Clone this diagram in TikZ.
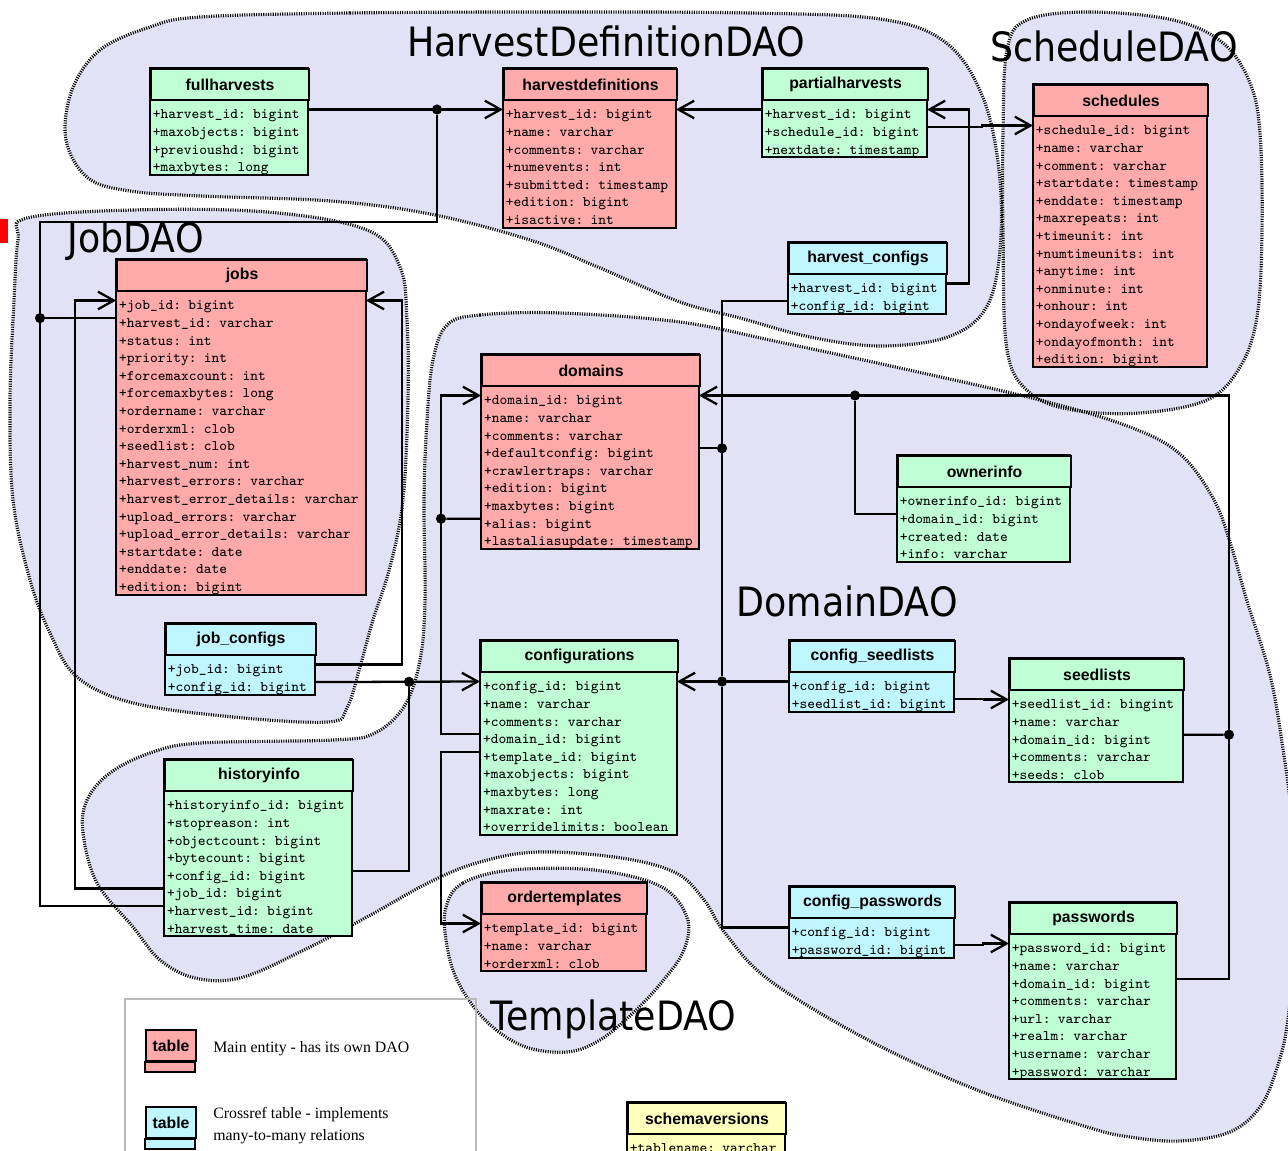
\documentclass[tikz,border=0pt]{standalone}
\usepackage{fontspec}
\usepackage{graphicx}
\usetikzlibrary{arrows.meta}
\newfontfamily\tblfont{Liberation Sans}
\newfontfamily\daofont{DejaVu Sans}
\newfontfamily\legfont{Liberation Serif}
\definecolor{entpink}{RGB}{255,170,170}
\definecolor{relgreen}{RGB}{192,255,214}
\definecolor{xrefcyan}{RGB}{192,246,255}
\definecolor{metayellow}{RGB}{255,255,190}
\definecolor{daofill}{RGB}{226,226,246}

\newcommand{\daoname}[1]{\scalebox{0.9}[1]{#1}}

% table: name, x, y, width, colour, title, rows
\newcommand{\dbtable}[7]{%
  \foreach \r [count=\i] in {#7} {\xdef\nrows{\i}}%
  \pgfmathsetmacro{\tblbot}{#3+54+(\nrows-1)*17.6}%
  \pgfmathsetmacro{\tblw}{#4*0.5669-3}%
  \draw[tblframe, fill=#5] (#2,#3) rectangle ({#2+#4},\tblbot);
  \node[tblhead, fill=#5, minimum width=#4*0.02cm, anchor=north west] (#1) at (#2,#3) {#6};
  \foreach \r [count=\i] in {#7}
    \node[tblrow, text width=\tblw pt] (#1-\i) at ({#2+#4/2},{#3+41.5+(\i-1)*17.6}) {+\r};
}

% DAO areas
\newcommand{\hdzone}{plot[smooth cycle, tension=0.6] coordinates {(200,17) (350,13) (550,12) (750,13) (880,19) (945,42) (982,95) (999,170) (1000,250) (986,308) (948,337) (880,346) (810,337) (740,318) (680,302) (600,268) (530,240) (430,214) (330,201) (200,196) (130,191) (88,178) (66,140) (72,90) (100,50) (150,27)}}
\newcommand{\schedzone}{plot[smooth cycle, tension=0.6] coordinates {(1027,20) (1090,12) (1173,20) (1223,43) (1250,83) (1260,133) (1262,233) (1257,317) (1240,367) (1207,400) (1140,413) (1073,410) (1030,393) (1007,350) (1003,233) (1003,133) (1007,50)}}
\newcommand{\jobzone}{plot[smooth cycle, tension=0.6] coordinates {(27,218) (133,210) (267,212) (367,230) (400,267) (407,320) (408,400) (403,500) (390,567) (373,620) (360,667) (347,708) (328,722) (233,717) (133,703) (77,677) (50,633) (30,580) (13,500) (10,400) (14,300) (18,240)}}
\newcommand{\domzone}{plot[smooth cycle, tension=0.6] coordinates {(447,325) (480,315) (560,313) (680,322) (779,342) (900,368) (1040,400) (1130,427) (1180,454) (1213,498) (1230,542) (1247,601) (1270,675) (1283,749) (1292,822) (1296,920) (1288,1019) (1277,1068) (1260,1107) (1230,1132) (1180,1141) (1130,1137) (1087,1127) (977,1090) (868,1040) (769,980) (725,933) (704,900) (676,873) (621,858) (539,852) (480,862) (430,882) (367,917) (300,952) (240,978) (195,978) (160,960) (133,927) (97,883) (83,833) (87,800) (110,773) (150,753) (200,743) (333,740) (375,733) (405,705) (420,660) (425,600) (424,500) (427,420) (433,360)}}
\newcommand{\tmplzone}{plot[smooth cycle, tension=0.6] coordinates {(446,907) (463,883) (512,870) (594,870) (660,886) (687,917) (684,950) (662,982) (633,1013) (600,1040) (567,1052) (523,1046) (485,1020) (457,980) (446,940)}}

\begin{document}
\begin{tikzpicture}[x=0.02cm, y=-0.02cm, >={Straight Barb[length=9pt,width=10pt]},
  tblframe/.style={line width=1.2pt},
  tblhead/.style={draw, line width=1.2pt, inner sep=0pt, minimum height=0.62cm, font=\tblfont\bfseries\fontsize{9}{10}\selectfont},
  tblrow/.style={inner xsep=1.5pt, inner ysep=0pt, text height=10.8pt, text depth=0pt, align=left, font=\ttfamily\fontsize{8.3}{10}\selectfont},
  link/.style={line width=1.3pt},
  dot/.style={circle, fill, inner sep=0pt, minimum size=5.8pt},
  daozone/.style={fill=daofill},
  daoedge/.style={line width=1.8pt, dash pattern=on 0.6pt off 0.75pt},
  daotext/.style={anchor=base west, inner sep=0pt, font=\daofont\fontsize{23}{23}\selectfont},
  legtext/.style={anchor=base west, inner sep=0pt, font=\legfont\fontsize{9}{12}\selectfont}]
  \useasboundingbox (0,0) rectangle (1288,1151);
  \clip (0,0) rectangle (1288,1151);
  \fill[white] (0,0) rectangle (1288,1151);

  \fill[daozone] \hdzone;
  \fill[daozone] \schedzone;
  \fill[daozone] \jobzone;
  \fill[daozone] \domzone;
  \fill[daozone] \tmplzone;

  \node[daotext] (hdname) at (407,57) {\daoname{HarvestDefinitionDAO}};
  \node[daotext] (schedname) at (990,62) {\daoname{ScheduleDAO}};
  \node[daotext] (jobname) at (67,253) {\daoname{JobDAO}};
  \node[daotext] (domname) at (736,617) {\daoname{DomainDAO}};
  \node[daotext] (tmplname) at (490,1030) {\daoname{TemplateDAO}};

  \draw[daoedge] \hdzone;
  \draw[daoedge] \schedzone;
  \draw[daoedge] \jobzone;
  \draw[daoedge] \domzone;
  \draw[daoedge] \tmplzone;

  \fill[red] (0,219) rectangle (8,243);

  \dbtable{fullharvests}{150}{68}{158}{relgreen}{fullharvests}{harvest\_id: bigint, maxobjects: bigint, previoushd: bigint, maxbytes: long}
  \dbtable{harvestdefinitions}{503}{68}{173}{entpink}{harvestdefinitions}{harvest\_id: bigint, name: varchar, comments: varchar, numevents: int, submitted: timestamp, edition: bigint, isactive: int}
  \dbtable{partialharvests}{762}{68}{165}{relgreen}{partialharvests}{harvest\_id: bigint, schedule\_id: bigint, nextdate: timestamp}
  \dbtable{schedules}{1033}{84}{174}{entpink}{schedules}{schedule\_id: bigint, name: varchar, comment: varchar, startdate: timestamp, enddate: timestamp, maxrepeats: int, timeunit: int, numtimeunits: int, anytime: int, onminute: int, onhour: int, ondayofweek: int, ondayofmonth: int, edition: bigint}
  \dbtable{harvestconfigs}{788}{242}{158}{xrefcyan}{harvest\_configs}{harvest\_id: bigint, config\_id: bigint}
  \dbtable{jobs}{116}{259}{250}{entpink}{jobs}{job\_id: bigint, harvest\_id: varchar, status: int, priority: int, forcemaxcount: int, forcemaxbytes: long, ordername: varchar, orderxml: clob, seedlist: clob, harvest\_num: int, harvest\_errors: varchar, harvest\_error\_details: varchar, upload\_errors: varchar, upload\_error\_details: varchar, startdate: date, enddate: date, edition: bigint}
  \dbtable{jobconfigs}{165}{623}{150}{xrefcyan}{job\_configs}{job\_id: bigint, config\_id: bigint}
  \dbtable{historyinfo}{164}{759}{188}{relgreen}{historyinfo}{historyinfo\_id: bigint, stopreason: int, objectcount: bigint, bytecount: bigint, config\_id: bigint, job\_id: bigint, harvest\_id: bigint, harvest\_time: date}
  \dbtable{domains}{481}{354}{218}{entpink}{domains}{domain\_id: bigint, name: varchar, comments: varchar, defaultconfig: bigint, crawlertraps: varchar, edition: bigint, maxbytes: bigint, alias: bigint, lastaliasupdate: timestamp}
  \dbtable{ownerinfo}{897}{455}{173}{relgreen}{ownerinfo}{ownerinfo\_id: bigint, domain\_id: bigint, created: date, info: varchar}
  \dbtable{configurations}{480}{640}{197}{relgreen}{configurations}{config\_id: bigint, name: varchar, comments: varchar, domain\_id: bigint, template\_id: bigint, maxobjects: bigint, maxbytes: long, maxrate: int, overridelimits: boolean}
  \dbtable{ordertemplates}{481}{882}{165}{entpink}{ordertemplates}{template\_id: bigint, name: varchar, orderxml: clob}
  \dbtable{configseedlists}{789}{640}{165}{xrefcyan}{config\_seedlists}{config\_id: bigint, seedlist\_id: bigint}
  \dbtable{seedlists}{1009}{658}{174}{relgreen}{seedlists}{seedlist\_id: bingint, name: varchar, domain\_id: bigint, comments: varchar, seeds: clob}
  \dbtable{configpasswords}{789}{886}{165}{xrefcyan}{config\_passwords}{config\_id: bigint, password\_id: bigint}
  \dbtable{passwords}{1009}{902}{167}{relgreen}{passwords}{password\_id: bigint, name: varchar, domain\_id: bigint, comments: varchar, url: varchar, realm: varchar, username: varchar, password: varchar}
  \dbtable{schemaversions}{627}{1102}{158}{metayellow}{schemaversions}{tablename: varchar}

  % harvest definitions
  \node[dot] (hdj) at (437,109.5) {};
  \coordinate (hdbend) at (40,222);
  \node[dot] (jobsj) at (40,318.1) {};
  \draw[link, ->] (fullharvests-1.east) -- (harvestdefinitions-1.west);
  \draw[link] (historyinfo-7.west) -| (hdbend) -| (hdj);
  \draw[link] (jobs-2.west) -- (jobsj);
  \draw[link, ->] (partialharvests-1.west) -- (harvestdefinitions-1.east);
  \draw[link, ->] (harvestconfigs-1.east) -- ++(23,0) |- (partialharvests-1.east);
  \draw[link, ->] (partialharvests-2.east) -- ++(55,0) |- (schedules-1.west);

  % jobs
  \draw[link, ->] (jobconfigs-1.east) -- ++(87,0) |- (jobs-1.east);
  \draw[link, ->] (historyinfo-6.west) -- ++(-89,0) |- (jobs-1.west);

  % configurations
  \node[dot] (cfgleft) at (409,681.8) {};
  \node[dot] (cfgj) at (722,681.5) {};
  \node[dot] (domj) at (722,448.3) {};
  \draw[link, ->] (jobconfigs-2.east) -- (configurations-1.west);
  \draw[link] (historyinfo-5.east) -| (cfgleft);
  \draw[link, ->] (configseedlists-1.west) -- (configurations-1.east);
  \draw[link] (harvestconfigs-2.west) -| (cfgj);
  \draw[link] (configpasswords-1.west) -| (cfgj);
  \draw[link] (domains-4.east) -- (domj);
  \draw[link, ->] (configseedlists-2.east) -- ++(30,0) |- (seedlists-1.west);
  \draw[link, ->] (configpasswords-2.east) -- ++(29,0) |- (passwords-1.west);
  \draw[link, ->] (configurations-5.west) -- ++(-39,0) |- (ordertemplates-1.west);

  % domains
  \coordinate (dleft) at (441,395.5);
  \node[dot] (aliasj) at (441,518.7) {};
  \draw[link, ->] (configurations-4.west) -| (dleft) -- (domains-1.west);
  \draw[link] (domains-8.west) -- (aliasj);
  \coordinate (rtop) at (1229,395.5);
  \node[dot] (ownj) at (855,395.5) {};
  \node[dot] (seedj) at (1229,734.7) {};
  \draw[link, ->] (passwords-3.east) -| (rtop) -- (domains-1.east);
  \draw[link] (ownerinfo-2.west) -| (ownj);
  \draw[link] (seedlists-3.east) -- (seedj);

  % legend
  \draw[gray!55, line width=0.6pt] (125,1160) -- (125,999) -- (476,999) -- (476,1160);
  \node[tblhead, fill=entpink, minimum width=1cm, anchor=north west] (legmain) at (145,1029) {table};
  \draw[tblframe, fill=entpink] (legmain.south west) rectangle ++(50,10);
  \node[tblhead, fill=xrefcyan, minimum width=1cm, anchor=north west] (legxref) at (145,1106) {table};
  \draw[tblframe, fill=xrefcyan] (legxref.south west) rectangle ++(50,10);
  \node[legtext] (legmaintext) at (213,1052) {Main entity - has its own DAO};
  \node[legtext] (legxreftext) at (213,1118) {Crossref table - implements};
  \node[legtext] (legxreftext2) at (213,1140) {many-to-many relations};
\end{tikzpicture}
\end{document}
